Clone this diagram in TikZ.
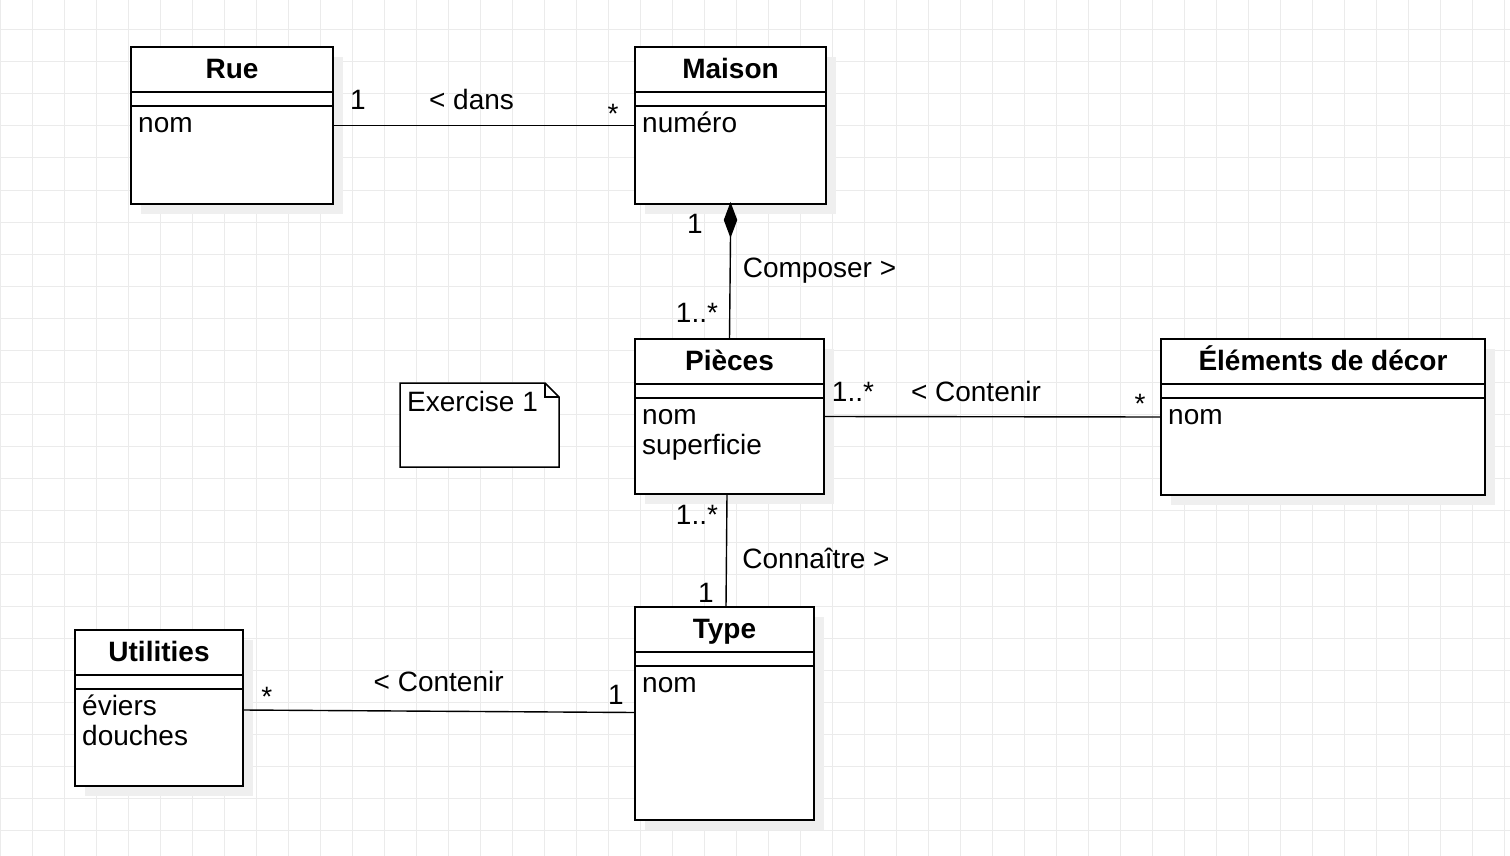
\documentclass[tikz,border=0pt]{standalone}
\usepackage{fontspec}
\setmainfont{Liberation Sans}
\usetikzlibrary{calc}
\definecolor{gridc}{HTML}{EBEBEB}
\definecolor{shadowc}{HTML}{EFEFEF}
\tikzset{
  cls/.style={draw=black, line width=1.5pt},
  clsbox/.style={cls, fill=white, rectangle, inner sep=0pt, outer sep=0pt},
  ttl/.style={inner sep=0pt, font=\fontsize{28}{30}\selectfont\bfseries},
  attr/.style={inner sep=0pt, font=\fontsize{28}{30}\selectfont},
  lbl/.style={inner sep=0pt, anchor=base, font=\fontsize{28}{30}\selectfont},
  conn/.style={draw=black, line width=1.4pt},
}
% name, x, y, w, h, title, attrs
\newcommand{\umlcls}[7]{%
  \fill[shadowc] (#2+10,#3+10) rectangle ++(#4,#5);
  \node[clsbox, minimum width=#4pt, minimum height=#5pt, anchor=north west] (#1) at (#2,#3) {};
  \node[ttl, anchor=base] (#1-t) at ($(#1.north)+(0,31.5)$) {#6};
  \draw[cls] ($(#1.north west)+(0,45)$) -- ($(#1.north east)+(0,45)$);
  \draw[cls] ($(#1.north west)+(0,59)$) -- ($(#1.north east)+(0,59)$);
  \foreach \a [count=\i] in {#7} {
    \node[attr, anchor=base west] (#1-a\i) at ($(#1.north west)+(7,{85+(\i-1)*30.5})$) {\a};
  }
}
\begin{document}
\begin{tikzpicture}[x=1pt, y=-1pt]
\useasboundingbox (0,0) rectangle (1510,856);
\fill[white] (0,0) rectangle (1510,856);
% grid
\foreach \gx in {0,32,...,1510} { \draw[gridc, line width=1pt] (\gx,0) -- (\gx,856); }
\foreach \gy in {30,62,...,856} { \draw[gridc, line width=1pt] (0,\gy) -- (1510,\gy); }

\umlcls{rue}{131}{47}{202}{157}{Rue}{nom}
\umlcls{maison}{635}{47}{191}{157}{Maison}{numéro}
\umlcls{pieces}{635}{339}{189}{155}{Pièces}{nom,superficie}
\umlcls{elem}{1161}{339}{324}{156}{Éléments de décor}{nom}
\umlcls{type}{635}{607}{179}{213}{Type}{nom}
\umlcls{util}{75}{630}{168}{156}{Utilities}{éviers,douches}

% note
\node[minimum width=159pt, minimum height=84pt, anchor=north west, inner sep=0pt, outer sep=0pt] (note) at (400,383) {};
\draw[cls, fill=white] (note.north west) -- ($(note.north east)+(-14,0)$) -- ($(note.north east)+(0,14)$) -- (note.south east) -- (note.south west) -- cycle;
\draw[cls, line width=1.2pt] ($(note.north east)+(-14,0)$) -- ($(note.north east)+(-14,14)$) -- ($(note.north east)+(0,14)$);
\node[attr, anchor=base west] (notetxt) at ($(note.north west)+(7,28.7)$) {Exercise 1};

% Rue - Maison
\draw[conn] (rue.east) -- (rue.east -| maison.west);
\node[lbl] (rm1) at (358,110) {1};
\node[lbl] (rmname) at (471.5,110) {< dans};
\node[lbl] (rm2) at (613,123.4) {*};

% Maison - Pieces (composition)
\coordinate (dtop) at (maison.south);
\coordinate (dbot) at ($(maison.south)+(0,32)$);
\draw[conn, fill=black] (dtop) -- ($(dtop)+(6,16)$) -- (dbot) -- ($(dtop)+(-6,16)$) -- cycle;
\draw[conn] (dbot) -- (pieces.north);
\node[lbl] (mp1) at (695,233.3) {1};
\node[lbl] (mpname) at (819.5,277.5) {Composer >};
\node[lbl] (mp2) at (697,322.7) {1..*};

% Pieces - Elements
\draw[conn] (pieces.east) -- (elem.west);
\node[lbl] (pe1) at (853,401) {1..*};
\node[lbl] (pename) at (976,401) {< Contenir};
\node[lbl] (pe2) at (1140,413) {*};

% Pieces - Type
\coordinate (pta) at ($(pieces.south west)+(92,0)$);
\coordinate (ptb) at ($(type.north west)+(91,0)$);
\draw[conn] (pta) -- (ptb);
\node[lbl] (pt1) at (697,524) {1..*};
\node[lbl] (ptname) at (816,568.3) {Connaître >};
\node[lbl] (pt2) at (706,602.3) {1};

% Utilities - Type
\coordinate (uta) at ($(util.east)+(0,2)$);
\coordinate (utb) at ($(type.west)+(0,-1)$);
\draw[conn] (uta) -- (utb);
\node[lbl] (ut1) at (266.7,706.4) {*};
\node[lbl] (utname) at (438.7,691.7) {< Contenir};
\node[lbl] (ut2) at (616,704) {1};
\end{tikzpicture}
\end{document}
